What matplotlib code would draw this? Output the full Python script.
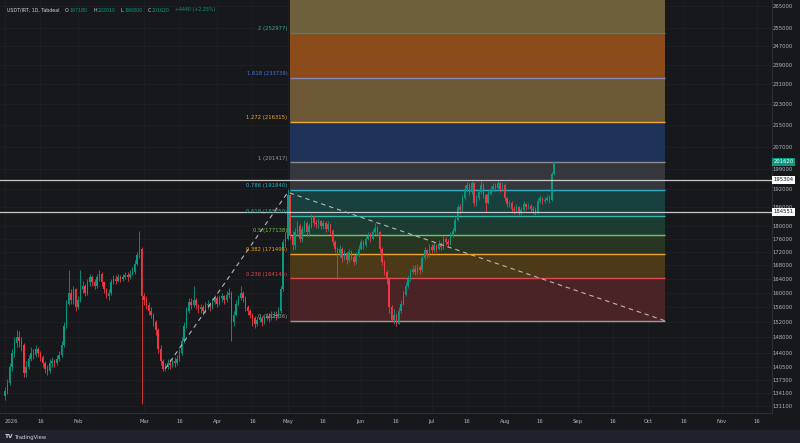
import datetime as dt
import numpy as np
import matplotlib
matplotlib.use("Agg")
from matplotlib import pyplot as plt
import matplotlib.dates as mdates
import matplotlib.transforms as mtransforms
from matplotlib.patches import Rectangle
from matplotlib.ticker import NullLocator, NullFormatter

# USDT/IRT daily candles, prices in thousands
start = dt.date(2026, 1, 1)
open0 = 133.5
closes = [
    134.5, 136.5, 140.5, 144, 146.5, 148, 147, 146, 139, 140.5,
    142.5, 144, 143.5, 145, 144, 143, 141.5, 140, 139.5, 141.5,
    142, 141.5, 142.5, 143.5, 146, 151, 157, 160, 158, 161,
    156, 158, 161, 162, 160, 163, 164.5, 163, 162, 164.5,
    165.5, 163, 161, 159, 160, 163, 164, 163.5, 164.5, 164,
    164.5, 165, 164.5, 165.5, 166, 168.5, 171, 173, 159, 158,
    156.5, 155, 154, 152, 150, 145, 142, 140, 140.5, 141.5,
    141, 142, 141.5, 142.5, 144, 147, 151, 155, 157.5, 156.5,
    158, 156.5, 155.5, 156, 155, 156.5, 157, 156, 157.5, 158.5,
    157, 158.5, 159, 158, 159.5, 160, 152, 154, 157, 158.5,
    160, 158.5, 156, 155, 154, 153, 151.5, 152.5, 153, 152,
    153, 153.5, 153, 154, 154, 153.5, 155, 161, 175, 176,
    190, 177, 174, 178, 180, 176, 179, 181, 178, 180,
    183, 181, 180.5, 181.5, 180, 181, 179, 180.5, 178.5, 175,
    173, 171.5, 173, 170, 171.5, 169.5, 172, 170.5, 169, 171,
    173, 175, 174, 176, 177, 176, 178, 179.5, 178, 173,
    169, 166, 164, 156, 152.5, 154, 151.5, 155, 157, 159.5,
    162, 164, 166, 167, 166, 167.5, 166.5, 170, 172.5, 171,
    173.5, 172.5, 174, 173, 174.5, 173.5, 176, 175, 174.5, 177,
    178.5, 182, 186, 185, 189, 192, 193.5, 191, 194, 187.5,
    189, 191, 193.5, 190, 187.5, 190.5, 192, 193, 192.5, 194,
    192, 193.5, 189, 187, 187.5, 185.5, 185, 186, 184.5, 185,
    187, 186, 186.5, 185.5, 185, 184.5, 188, 189, 188, 188.5,
    189, 188.5, 197.18, 201.62,
]
highs = [
    135.5, 137.5, 141.5, 145, 148, 150, 149.5, 148, 146.5, 142,
    143.5, 145.5, 145, 146, 145.5, 144.5, 143.5, 142, 141, 142.5,
    143, 142.5, 143.5, 144.5, 147, 152, 158, 166.5, 161, 162,
    161.5, 159, 166.5, 163.5, 162.5, 164, 165.5, 165, 164, 165.5,
    166.5, 166, 163.5, 161.5, 161, 164, 165, 165, 165.5, 165,
    165.5, 166, 166, 166.5, 167.5, 169.5, 172, 178.5, 173.5, 160,
    159, 157.5, 156, 154.5, 152.5, 150.5, 146, 142.5, 141.5, 142.5,
    142.5, 143, 143, 143.5, 145, 148, 152, 156, 158.5, 158.5,
    162, 158.5, 157, 157, 156.5, 157.5, 158, 157.5, 158.5, 159.5,
    159, 159.5, 160, 159.5, 160.5, 161.5, 160.5, 155, 158, 159.5,
    162, 160.5, 159, 156.5, 155.5, 154.5, 153.5, 153.5, 154, 153.5,
    154, 154.5, 154.5, 155, 155, 155, 156, 162, 176, 178,
    192, 190.5, 178.5, 179.5, 181.5, 180.5, 180, 182, 181.5, 181,
    184, 183.5, 182, 182.5, 182, 182, 181.5, 181.5, 181, 179,
    175.5, 173.5, 174, 173.5, 172.5, 172, 173, 172.5, 171, 172,
    174, 176, 175.5, 177, 178, 178, 179, 181, 180, 178.5,
    173.5, 169.5, 166.5, 164.5, 156.5, 155.5, 154.5, 156, 158, 160.5,
    163, 165, 167, 168, 168, 168.5, 168, 171, 173.5, 173,
    174.5, 174.5, 175, 174.5, 175.5, 175, 177, 176.5, 176, 178,
    179.5, 183, 187, 187, 190, 193.5, 194.5, 194, 195, 194.5,
    190, 192, 195, 194, 190.5, 191.5, 193, 194, 194, 195,
    194.5, 194.5, 194, 189.5, 188.5, 188, 186.5, 187, 186.5, 186,
    188, 187.5, 187.5, 187, 186.5, 186, 189, 190, 189.5, 189.5,
    190, 190, 198, 202.01,
]
lows = [
    132.5, 134, 136, 139.5, 143, 145.5, 145.5, 144.5, 138, 138,
    140, 142, 142.5, 143, 143, 142, 140.5, 139, 138.5, 139,
    140.5, 140.5, 141, 142, 143, 145.5, 150.5, 156.5, 157, 157,
    155, 155.5, 157.5, 160, 159, 159.5, 162, 162, 161, 161.5,
    163.5, 162, 160, 158.5, 158, 159.5, 162.5, 162.5, 163, 163,
    163.5, 164, 163.5, 164, 165, 165.5, 168, 170, 131.5, 156.5,
    155.5, 154, 153, 151, 148.5, 144, 141, 139.5, 139.5, 140,
    140, 140.5, 140.5, 141, 142, 143.5, 146.5, 150.5, 154.5, 155.5,
    156, 155.5, 154.5, 154.5, 154, 154.5, 155.5, 155, 155.5, 157,
    156, 156.5, 157.5, 157, 157.5, 158.5, 147, 151, 153.5, 156.5,
    158, 157.5, 155, 154, 153, 151, 150.5, 151, 152, 151,
    151.5, 152.5, 152, 152.5, 153, 152.5, 153, 154.5, 160.5, 173.5,
    175.5, 176, 172.5, 173, 177, 175, 175, 178, 177, 177,
    179.5, 180, 179.5, 179.5, 179, 179, 178, 178.5, 177.5, 174,
    172, 164, 170.5, 169, 169.5, 168.5, 169, 169.5, 168, 168.5,
    170.5, 172.5, 173, 173.5, 175.5, 175, 175.5, 177.5, 177, 172,
    168, 165, 162.5, 154.5, 152, 151.5, 151, 151.5, 154.5, 156.5,
    159, 161.5, 163.5, 165.5, 165, 165.5, 165.5, 166, 169.5, 170,
    170.5, 171.5, 172, 172, 172.5, 172.5, 173, 174, 173.5, 174,
    176.5, 178, 181.5, 184, 184.5, 188.5, 191, 190, 190.5, 186.5,
    186.5, 188.5, 190.5, 189, 184.5, 187, 190, 191.5, 191.5, 192,
    191, 191.5, 188, 186, 186, 184.5, 184, 184.5, 183.5, 183.5,
    184.5, 185, 185.5, 184.5, 184, 183.5, 184, 187.5, 187, 187.5,
    188, 187.5, 188, 196.8,
]

# trend based fib extension
fib_ratios = ['2', '1.618', '1.272', '1', '0.786', '0.618', '0.5', '0.382', '0.236', '0']
fib_prices = [252977, 233739, 216315, 201417, 191840, 183250, 177138, 171495, 164145, 152336]
fib_line_colors = ['#4f7f72', '#8a86b8', '#f2a93b', '#8c8c8c', '#2ab0c4',
                   '#3bb5a5', '#6fcf4a', '#f0a42a', '#e04850', '#9a9a9a']
fib_text_colors = ['#3fa88a', '#4a72e8', '#f0a830', '#9a9a9a', '#2cb5c9',
                   '#3aa596', '#7bc34d', '#f0a020', '#e0474f', '#9a9a9a']
fib_band_colors = ['#6e603a', '#8c4b1b', '#6d5835', '#1f3258', '#36373c',
                   '#17403f', '#1c3b33', '#273623', '#4b3917', '#4a2327']
fib_box_days = [121, 280]
trend_days = [68, 120, 280]
trend_prices = [140000, 191000, 152336]

hlines = [195304, 184551]
last_price = 201620

ytick_vals = [131100, 134100, 137300, 140500, 144000, 148000, 152000, 156000, 160000,
              164000, 168000, 172000, 176000, 180000, 186000, 192000, 199000, 207000,
              215000, 223000, 231000, 239000, 247000, 255000, 265000]
xtick_dates = [dt.date(2026, 1, 1), dt.date(2026, 1, 16), dt.date(2026, 2, 1),
               dt.date(2026, 3, 1), dt.date(2026, 3, 16), dt.date(2026, 4, 1),
               dt.date(2026, 4, 16), dt.date(2026, 5, 1), dt.date(2026, 5, 16),
               dt.date(2026, 6, 1), dt.date(2026, 6, 16), dt.date(2026, 7, 1),
               dt.date(2026, 7, 16), dt.date(2026, 8, 1), dt.date(2026, 8, 16),
               dt.date(2026, 9, 1), dt.date(2026, 9, 16), dt.date(2026, 10, 1),
               dt.date(2026, 10, 16), dt.date(2026, 11, 1), dt.date(2026, 11, 16)]
xtick_labels = ['2026', '16', 'Feb', 'Mar', '16', 'Apr', '16', 'May', '16', 'Jun', '16',
                'Jul', '16', 'Aug', '16', 'Sep', '16', 'Oct', '16', 'Nov', '16']

header = [('USDT/IRT, 1D, Tabdeal', 'w'), ('O', 'w'), ('197180', 'g'), ('H', 'w'),
          ('202010', 'g'), ('L', 'w'), ('196800', 'g'), ('C', 'w'), ('201620', 'g'),
          ('+4440 (+2.25%)', 'g')]

BG = '#17181c'
UP = '#089981'
DOWN = '#f23645'
TXT = '#b2b5be'

c = np.array(closes) * 1000
h = np.array(highs) * 1000
l = np.array(lows) * 1000
o = np.concatenate([[open0 * 1000], c[:-1]])
t0 = mdates.date2num(start)
x = t0 + np.arange(len(c))
cols = np.where(c >= o, UP, DOWN)

fig = plt.figure(figsize=(8, 4.43), dpi=100, facecolor=BG)
ax = fig.add_axes([0, 30 / 443, 772 / 800, 413 / 443], facecolor=BG)
ax.set_yscale('log')

# fib zones
bx0, bx1 = t0 + fib_box_days[0], t0 + fib_box_days[1]
band_tops = [290000] + fib_prices[:-1]
for top, bot, col in zip(band_tops, fib_prices, fib_band_colors):
    ax.fill_between([bx0, bx1], bot, top, color=col, lw=0, zorder=1)
for r, p, lc, tc in zip(fib_ratios, fib_prices, fib_line_colors, fib_text_colors):
    ax.hlines(p, bx0, bx1, color=lc, lw=1.0, zorder=2)
    ax.annotate(f'{r} ({p})', xy=(bx0, p), xytext=(-2, 1.2), textcoords='offset points',
                ha='right', va='bottom', color=tc, fontsize=3.8, zorder=6)

for v in hlines:
    ax.axhline(v, color='#c8c8c8', lw=0.9, zorder=4)

# candles
ax.vlines(x, l, h, colors=cols, lw=0.6, zorder=3)
body_h = np.maximum(np.abs(c - o), 150)
ax.bar(x, body_h, bottom=np.minimum(o, c), width=0.62, color=cols, lw=0, zorder=3)

ax.plot(t0 + np.array(trend_days), trend_prices, color='#b8b8b8', lw=0.8,
        ls=(0, (4, 3.5)), zorder=5)

ax.set_xlim(t0 - 2.1, t0 + 325.4)
ax.set_ylim(129500, 268000)

ax.yaxis.set_minor_locator(NullLocator())
ax.yaxis.set_minor_formatter(NullFormatter())
ax.set_yticks(ytick_vals)
ax.set_yticklabels([str(v) for v in ytick_vals])
ax.yaxis.tick_right()
for lbl in ax.get_yticklabels():
    lbl.set_horizontalalignment('right')
ax.set_xticks(mdates.date2num(xtick_dates))
ax.set_xticklabels(xtick_labels)
ax.get_xticklabels()[0].set_horizontalalignment('left')
ax.tick_params(axis='y', length=0, labelsize=3.8, colors=TXT, pad=15)
ax.tick_params(axis='x', length=0, labelsize=3.8, colors=TXT, pad=4)
ax.grid(True, color='#202228', lw=0.5, zorder=0)
ax.set_axisbelow(True)
for s in ['left', 'top']:
    ax.spines[s].set_visible(False)
for s in ['right', 'bottom']:
    ax.spines[s].set_color('#2b2e36')
    ax.spines[s].set_linewidth(0.8)

# price markers on the right scale
trans = mtransforms.blended_transform_factory(ax.transAxes, ax.transData)
ax.text(1.002, last_price, str(last_price), transform=trans, ha='left', va='center',
        fontsize=3.8, color='white', clip_on=False, zorder=10,
        bbox=dict(boxstyle='square,pad=0.3', fc=UP, ec='none'))
for v in hlines:
    ax.text(1.002, v, str(v), transform=trans, ha='left', va='center', fontsize=3.8,
            color='#131722', clip_on=False, zorder=10,
            bbox=dict(boxstyle='square,pad=0.3', fc='white', ec='none'))

# header, laid out piece after piece
prev = fig.text(7 / 800, 1 - 10 / 443, header[0][0], color='#d1d4dc', fontsize=3.4,
                va='center')
for i, (s, kind) in enumerate(header[1:]):
    gap = 4 if kind == 'w' or s.startswith('+') else 0.4
    prev = ax.annotate(s, xy=(1, 0.5), xycoords=prev, xytext=(gap, 0),
                       textcoords='offset points', va='center', ha='left', fontsize=3.4,
                       color='#d1d4dc' if kind == 'w' else UP, annotation_clip=False)

# bottom bar
fig.patches.append(Rectangle((0, 0), 1, 13 / 443, transform=fig.transFigure,
                             color='#1e222d', zorder=0))
fig.text(5 / 800, 6 / 443, 'TV', color='#d1d4dc', fontsize=4.2, fontweight='bold', va='center')
fig.text(15 / 800, 6 / 443, 'TradingView', color='#d1d4dc', fontsize=3.8, va='center')

fig.savefig('out.png', dpi=100, facecolor=BG)
